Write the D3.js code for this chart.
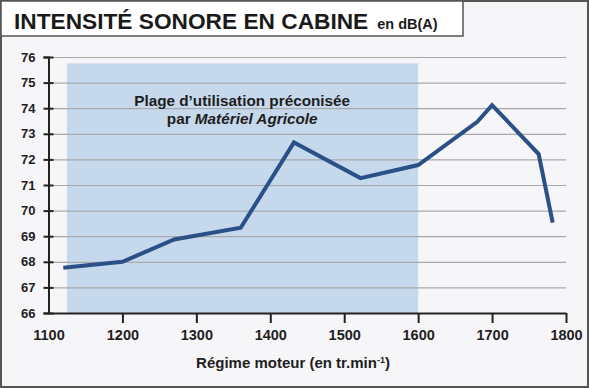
<!DOCTYPE html>
<html>
<head>
<meta charset="utf-8">
<script src="https://cdn.jsdelivr.net/npm/d3@7"></script>
<style>
  body { margin: 0; background: #fff; }
  svg { display: block; font-family: "Liberation Sans", Arial, sans-serif; }
</style>
</head>
<body>
<script>
// data
const rpm = [1120, 1200, 1270, 1360, 1432, 1522, 1600, 1680, 1700, 1763, 1782];
const dbA = [67.77, 68.0, 68.87, 69.33, 72.66, 71.27, 71.78, 73.47, 74.12, 72.21, 69.53];
const xTicks = [1100, 1200, 1300, 1400, 1500, 1600, 1700, 1800];
const yTicks = [66, 67, 68, 69, 70, 71, 72, 73, 74, 75, 76];
const band = { from: 1125, to: 1600, top: 75.75 };

const w = 589, h = 388;

const svg = d3.select("body").append("svg")
  .attr("width", w)
  .attr("height", h);

// background + frame
svg.append("rect")
  .attr("x", 1).attr("y", 1)
  .attr("width", w - 2).attr("height", h - 2)
  .attr("fill", "#f6f5f8")
  .attr("stroke", "#555").attr("stroke-width", 2);

// title box
svg.append("rect")
  .attr("x", 1).attr("y", 1)
  .attr("width", 462).attr("height", 35)
  .attr("fill", "#fff")
  .attr("stroke", "#555").attr("stroke-width", 1.5);

const title = svg.append("text")
  .attr("x", 14).attr("y", 29)
  .attr("fill", "#1a1a1a")
  .style("font-weight", "bold");
title.append("tspan").style("font-size", "22.7px").text("INTENSITÉ SONORE EN CABINE");
title.append("tspan").attr("dx", 9).style("font-size", "14.5px").text("en dB(A)");

const x = d3.scaleLinear().domain([1100, 1800]).range([48.5, 566]);
const y = d3.scaleLinear().domain([66, 76]).range([313, 57]);

// recommended range band
svg.append("rect")
  .attr("x", x(band.from))
  .attr("y", y(band.top))
  .attr("width", x(band.to) - x(band.from))
  .attr("height", y(66) - y(band.top))
  .attr("fill", "#c6d8eb");

// grid lines
const grid = svg.append("g")
  .attr("transform", `translate(${x(1100)},0)`)
  .call(d3.axisRight(y).tickValues(yTicks.slice(1)).tickSize(x(1800) - x(1100)).tickFormat(""));
grid.select(".domain").remove();
grid.selectAll("line").attr("stroke", "#a9a9ab").attr("stroke-width", 1.2);

// annotation
const note = svg.append("text")
  .attr("text-anchor", "middle")
  .attr("fill", "#1e1e1e")
  .style("font-weight", "bold")
  .style("font-size", "15.3px");
note.append("tspan").attr("x", x(1362)).attr("y", 106).text("Plage d’utilisation préconisée");
const l2 = note.append("tspan").attr("x", x(1362)).attr("y", 124);
l2.append("tspan").text("par ");
l2.append("tspan").style("font-style", "italic").text("Matériel Agricole");

// line
svg.append("path")
  .datum(rpm.map((r, i) => [r, dbA[i]]))
  .attr("fill", "none")
  .attr("stroke", "#2b5088")
  .attr("stroke-width", 4)
  .attr("stroke-linejoin", "miter")
  .attr("d", d3.line().x(d => x(d[0])).y(d => y(d[1])));

// y axis
const yAxis = svg.append("g")
  .attr("transform", `translate(${x(1100)},0)`)
  .call(d3.axisLeft(y).tickValues(yTicks).tickSize(5).tickPadding(8));
yAxis.select(".domain").attr("stroke", "#222").attr("stroke-width", 2);
yAxis.selectAll(".tick line").attr("stroke", "#222").attr("stroke-width", 2).attr("x2", 5).attr("x1", -5);
yAxis.selectAll("text")
  .attr("fill", "#1e1e1e")
  .style("font-size", "13px").style("font-weight", "bold")
  .attr("font-family", null);

// x axis
const xAxis = svg.append("g")
  .attr("transform", `translate(0,${y(66)})`)
  .call(d3.axisBottom(x).tickValues(xTicks).tickFormat(d3.format("d"))
    .tickSize(10).tickSizeOuter(0).tickPadding(7));
xAxis.select(".domain").attr("stroke", "#222").attr("stroke-width", 2);
xAxis.selectAll(".tick line").attr("stroke", "#222").attr("stroke-width", 2);
xAxis.selectAll(".tick").filter(d => d === 1100).select("line").remove();
xAxis.selectAll("text")
  .attr("fill", "#1e1e1e")
  .style("font-family", "'Liberation Sans Narrow', 'Liberation Sans', sans-serif")
  .style("font-size", "14.5px").style("font-weight", "bold")
  .attr("font-family", null);

// x label
const xl = svg.append("text")
  .attr("x", 293).attr("y", 368)
  .attr("text-anchor", "middle")
  .attr("fill", "#1e1e1e")
  .style("font-size", "15px").style("font-weight", "bold")
  .text("Régime moteur (en tr.min");
xl.append("tspan").attr("dy", -5).style("font-size", "9px").text("-1");
xl.append("tspan").attr("dy", 5).text(")");
</script>
</body>
</html>
